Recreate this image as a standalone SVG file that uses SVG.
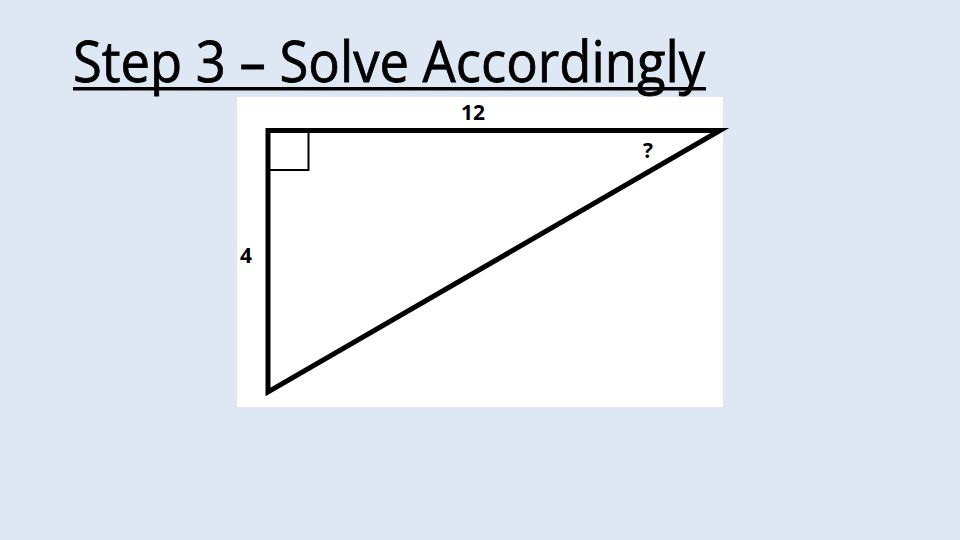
<svg xmlns="http://www.w3.org/2000/svg" width="960" height="540" viewBox="0 0 960 540">
<style>
.lbl{font-family:"Open Sans","Liberation Sans",sans-serif;font-weight:bold;fill:#000}
.title{font-family:"Open Sans","Liberation Sans",sans-serif;font-size:57px;fill:#000;stroke:#000;stroke-width:0.8}
</style>
<rect width="960" height="540" fill="#dee8f4"/>
<g id="title">
<text class="title" x="73" y="82" textLength="632" lengthAdjust="spacingAndGlyphs">Step 3 – Solve Accordingly</text>
<rect x="73" y="87" width="633" height="3.5" fill="#000"/>
</g>
<rect x="237" y="97" width="486" height="310" fill="#fff"/>
<g id="triangle">
<polygon points="268,130.5 720,130.5 268,392" fill="none" stroke="#000" stroke-width="5" stroke-linejoin="miter"/>
<rect x="268" y="130.5" width="40.5" height="39.5" fill="none" stroke="#000" stroke-width="2"/>
</g>
<g id="labels">
<text class="lbl" x="473" y="120" font-size="21" text-anchor="middle">12</text>
<text class="lbl" x="648" y="158" font-size="21" text-anchor="middle">?</text>
<text class="lbl" x="246" y="263" font-size="21" text-anchor="middle">4</text>
</g>
</svg>
